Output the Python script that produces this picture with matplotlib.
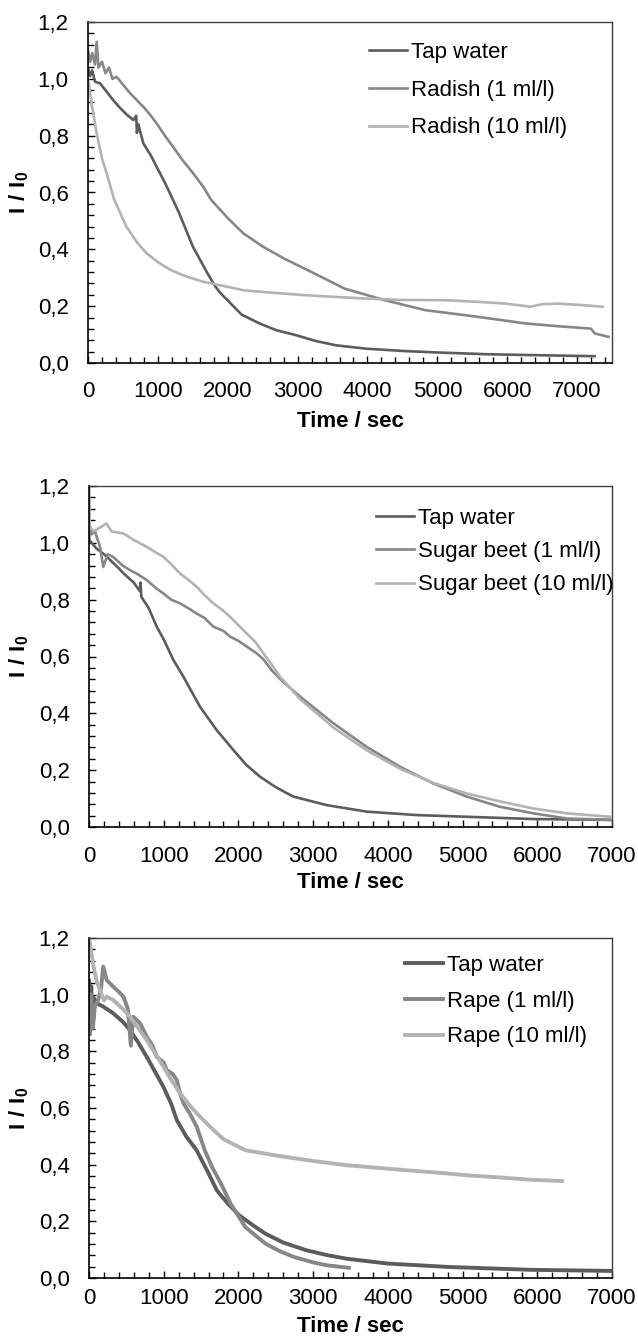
import matplotlib
matplotlib.use("Agg")
import matplotlib.pyplot as plt
from matplotlib.ticker import FuncFormatter, MultipleLocator

# ---- panel 1: radish ----
T1_TAP = [0, 30, 60, 100, 172, 250, 362, 450, 550, 650, 690, 700, 720, 792, 900, 983, 1100, 1173,
          1300, 1400, 1500, 1600, 1700, 1820, 1900, 2080, 2200, 2457, 2700, 2977, 3250, 3555,
          4000, 4538, 5000, 5694, 6300, 7000, 7250]
V1_TAP = [1.04, 1.01, 1.03, 0.99, 0.984, 0.96, 0.925, 0.90, 0.875, 0.855, 0.87, 0.81, 0.84, 0.773,
          0.73, 0.69, 0.635, 0.597, 0.53, 0.47, 0.41, 0.365, 0.32, 0.27, 0.245, 0.20, 0.17,
          0.139, 0.115, 0.098, 0.078, 0.062, 0.05, 0.042, 0.037, 0.031, 0.028, 0.025, 0.024]
T1_LOW = [0, 30, 60, 100, 124, 150, 200, 250, 300, 350, 410, 500, 600, 700, 744, 800, 900, 983,
          1100, 1220, 1350, 1507, 1650, 1763, 2000, 2225, 2500, 2803, 3200, 3670, 4249, 4827,
          5405, 5800, 6272, 6700, 7197, 7254, 7450]
V1_LOW = [1.10, 1.06, 1.09, 1.05, 1.13, 1.04, 1.06, 1.02, 1.04, 1.00, 1.007, 0.98, 0.95, 0.925,
          0.913, 0.90, 0.87, 0.843, 0.80, 0.76, 0.715, 0.667, 0.62, 0.574, 0.51, 0.456, 0.41,
          0.368, 0.32, 0.262, 0.221, 0.186, 0.168, 0.155, 0.139, 0.13, 0.121, 0.104, 0.092]
T1_HIGH = [0, 13, 60, 124, 200, 267, 376, 549, 700, 838, 1000, 1185, 1400, 1647, 2000, 2225,
           2600, 3092, 3500, 3960, 4500, 5116, 5600, 5983, 6330, 6503, 6734, 7000, 7370]
V1_HIGH = [1.0, 0.98, 0.90, 0.808, 0.72, 0.667, 0.574, 0.48, 0.425, 0.386, 0.355, 0.327, 0.305,
           0.286, 0.268, 0.256, 0.248, 0.239, 0.233, 0.227, 0.222, 0.221, 0.215, 0.209, 0.198,
           0.207, 0.209, 0.205, 0.198]
LABELS1 = ["Tap water", "Radish (1 ml/l)", "Radish (10 ml/l)"]

# ---- panel 2: sugar beet ----
T2_TAP = [0, 4, 100, 200, 281, 400, 460, 600, 680, 690, 700, 800, 906, 1000, 1129, 1263, 1486,
          1709, 1932, 2100, 2289, 2500, 2735, 3182, 3717, 4386, 5056, 5948, 6975]
V2_TAP = [1.05, 1.01, 0.98, 0.96, 0.94, 0.91, 0.893, 0.86, 0.83, 0.86, 0.81, 0.77, 0.705, 0.66,
          0.588, 0.529, 0.423, 0.341, 0.271, 0.22, 0.177, 0.14, 0.107, 0.077, 0.054, 0.042,
          0.036, 0.028, 0.025]
T2_LOW = [0, 10, 30, 80, 147, 191, 250, 325, 450, 549, 650, 772, 900, 995, 1100, 1218, 1330,
          1442, 1550, 1664, 1800, 1888, 2000, 2111, 2250, 2334, 2450, 2600, 2825, 3271, 3717,
          4163, 4609, 5056, 5502, 5948, 6395, 6975]
V2_LOW = [1.2, 1.05, 1.03, 1.04, 0.986, 0.915, 0.96, 0.95, 0.92, 0.904, 0.89, 0.869, 0.84, 0.822,
          0.80, 0.787, 0.77, 0.751, 0.735, 0.705, 0.69, 0.67, 0.655, 0.635, 0.61, 0.59, 0.55,
          0.51, 0.459, 0.365, 0.282, 0.212, 0.153, 0.107, 0.071, 0.048, 0.030, 0.025]
T2_HIGH = [0, 10, 60, 120, 236, 300, 460, 600, 772, 900, 995, 1100, 1218, 1330, 1442, 1550,
           1664, 1780, 1888, 2000, 2111, 2230, 2334, 2450, 2557, 2825, 3271, 3717, 4163, 4609,
           5056, 5502, 5948, 6395, 6975]
V2_HIGH = [1.2, 1.06, 1.04, 1.05, 1.068, 1.04, 1.033, 1.01, 0.986, 0.965, 0.951, 0.925, 0.892,
           0.87, 0.845, 0.815, 0.787, 0.765, 0.74, 0.71, 0.681, 0.65, 0.611, 0.57, 0.529, 0.45,
           0.35, 0.27, 0.205, 0.155, 0.118, 0.09, 0.065, 0.048, 0.036]
LABELS2 = ["Tap water", "Sugar beet (1 ml/l)", "Sugar beet (10 ml/l)"]

# ---- panel 3: rape ----
T3_TAP = [0, 15, 30, 45, 60, 100, 191, 325, 450, 549, 650, 772, 880, 995, 1100, 1174, 1300,
          1440, 1580, 1712, 1850, 2011, 2200, 2364, 2600, 2908, 3200, 3451, 3995, 4810, 5897, 6984]
V3_TAP = [1.05, 0.92, 1.03, 0.90, 0.99, 0.97, 0.958, 0.934, 0.905, 0.875, 0.835, 0.781, 0.73,
          0.675, 0.615, 0.558, 0.50, 0.451, 0.38, 0.309, 0.265, 0.221, 0.185, 0.156, 0.125,
          0.098, 0.08, 0.068, 0.051, 0.039, 0.029, 0.025]
T3_LOW = [0, 15, 30, 50, 80, 120, 160, 191, 236, 280, 325, 400, 460, 520, 560, 593, 683, 772,
          850, 906, 1000, 1040, 1120, 1174, 1220, 1263, 1350, 1442, 1549, 1650, 1766, 1900,
          2092, 2250, 2364, 2550, 2745, 3000, 3179, 3478]
V3_LOW = [0.95, 0.86, 1.0, 0.88, 0.96, 0.98, 1.02, 1.099, 1.052, 1.04, 1.028, 1.01, 0.993, 0.95,
          0.82, 0.922, 0.899, 0.852, 0.82, 0.781, 0.76, 0.734, 0.72, 0.699, 0.65, 0.617, 0.58,
          0.534, 0.451, 0.39, 0.333, 0.26, 0.18, 0.145, 0.121, 0.095, 0.074, 0.055, 0.045, 0.036]
T3_HIGH = [0, 60, 100, 147, 200, 236, 325, 450, 549, 650, 772, 880, 995, 1100, 1218, 1330,
           1442, 1620, 1800, 2092, 2400, 2636, 3000, 3451, 3900, 4266, 4700, 5082, 5500, 5897, 6332]
V3_HIGH = [1.2, 1.1, 1.05, 1.017, 0.98, 0.993, 0.981, 0.95, 0.922, 0.885, 0.84, 0.795, 0.746,
           0.70, 0.652, 0.615, 0.581, 0.534, 0.49, 0.451, 0.437, 0.427, 0.413, 0.398, 0.388,
           0.38, 0.371, 0.362, 0.355, 0.347, 0.342]
LABELS3 = ["Tap water", "Rape (1 ml/l)", "Rape (10 ml/l)"]

COLORS = ["#5c5c5c", "#878787", "#b3b3b3"]
W, H = 638, 1338
FS = 16


def configure():
    plt.rcParams.update({
        "font.family": ["Liberation Sans", "DejaVu Sans"],
        "font.size": FS,
        "mathtext.fontset": "custom",
        "mathtext.bf": "Liberation Sans:bold",
        "mathtext.rm": "Liberation Sans",
    })


def comma(v, _pos):
    return f"{v:.1f}".replace(".", ",")


def panel(fig, box, series, labels, xmax, lw, leg, xpad, xlabelpad):
    left, top, right, bottom = box
    ax = fig.add_axes([left / W, 1 - bottom / H, (right - left) / W, (bottom - top) / H])
    for (t, v), color, label in zip(series, COLORS, labels):
        ax.plot(t, v, color=color, linewidth=lw, label=label, solid_joinstyle="round")
    ax.set_xlim(0, xmax)
    ax.set_ylim(0, 1.2)
    ax.xaxis.set_minor_locator(MultipleLocator(200))
    ax.yaxis.set_major_locator(MultipleLocator(0.2))
    ax.yaxis.set_minor_locator(MultipleLocator(0.04))
    ax.yaxis.set_major_formatter(FuncFormatter(comma))
    ax.set_xticks(range(0, 7001, 1000))
    ax.tick_params(which="both", direction="in", top=False, right=False, color="black")
    ax.tick_params(which="major", length=5, width=1.0)
    ax.tick_params(which="minor", length=4, width=1.0)
    ax.tick_params(axis="y", which="major", pad=14)
    ax.tick_params(axis="x", which="major", pad=xpad)
    for side in ("left", "bottom"):
        ax.spines[side].set_color("black")
        ax.spines[side].set_linewidth(1.2)
    for side in ("top", "right"):
        ax.spines[side].set_color("#404040")
        ax.spines[side].set_linewidth(1.0)
    ax.set_xlabel("Time / sec", fontweight="bold", labelpad=xlabelpad)
    ax.set_ylabel(r"$\mathbf{I\ /\ I_0}$", fontsize=FS)
    ax.yaxis.set_label_coords((31 - left) / (right - left), 0.5)
    hx, hy, spacing = leg
    ax.legend(loc="upper left", bbox_to_anchor=(hx / W, 1 - hy / H),
              bbox_transform=fig.transFigure, frameon=False, borderpad=0,
              borderaxespad=0, handlelength=1.71, handletextpad=0.18,
              labelspacing=spacing, fontsize=FS)
    return ax


def main():
    configure()
    fig = plt.figure(figsize=(W / 100, H / 100), dpi=100)
    panel(fig, (88, 22, 612, 363),
          [(T1_TAP, V1_TAP), (T1_LOW, V1_LOW), (T1_HIGH, V1_HIGH)],
          LABELS1, 7500, 1.9, (369, 42, 0.75), 13, 6.5)
    panel(fig, (89, 486, 612, 827),
          [(T2_TAP, V2_TAP), (T2_LOW, V2_LOW), (T2_HIGH, V2_HIGH)],
          LABELS2, 7000, 1.9, (376, 508, 0.55), 14, 3.5)
    panel(fig, (89, 938, 612, 1278),
          [(T3_TAP, V3_TAP), (T3_LOW, V3_LOW), (T3_HIGH, V3_HIGH)],
          LABELS3, 7000, 2.8, (405, 955, 0.66), 7.5, 5)
    fig.savefig("out.png", dpi=100, facecolor="white")


if __name__ == "__main__":
    main()
